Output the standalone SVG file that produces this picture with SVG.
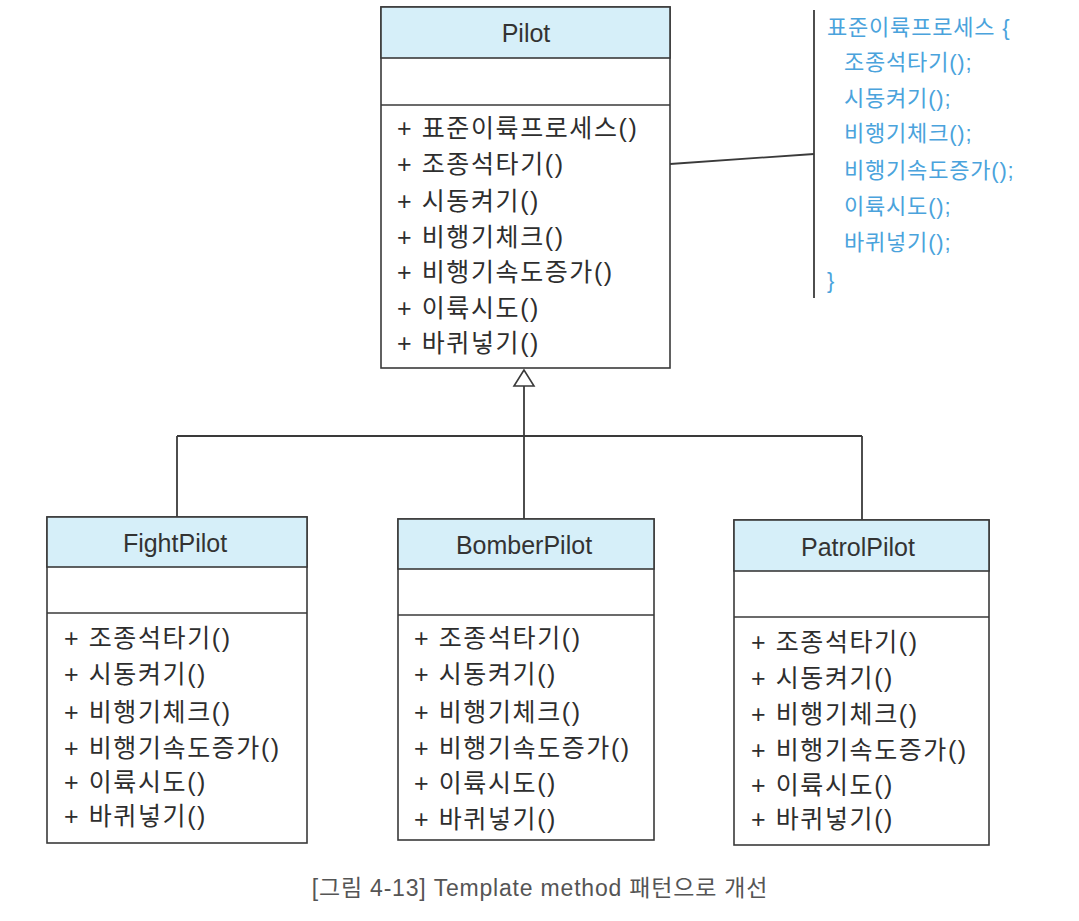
<svg xmlns="http://www.w3.org/2000/svg" width="1079" height="921" viewBox="0 0 1079 921">
<style>
.box{fill:#ffffff;stroke:#3a3a3a;stroke-width:1.6}
.hdr{fill:#d6eff9;stroke:#3a3a3a;stroke-width:1.6}
.sep{stroke:#3a3a3a;stroke-width:1.6}
.title{font-family:"Liberation Sans","Noto Sans CJK KR",sans-serif;font-size:25px;fill:#333;text-anchor:middle}
.m{font-family:"Liberation Sans","Noto Sans CJK KR",sans-serif;font-size:25px;fill:#2e2e2e;letter-spacing:1.6px}
.note{font-family:"Liberation Sans","Noto Sans CJK KR",sans-serif;font-size:22px;fill:#4aa3dc;letter-spacing:0.8px}
.cap{font-family:"Liberation Sans","Noto Sans CJK KR",sans-serif;font-size:23px;fill:#555;text-anchor:middle;letter-spacing:0.8px}
.ln{stroke:#3a3a3a;stroke-width:1.8;fill:none}
</style>
<rect width="1079" height="921" fill="#ffffff"/>

<g id="connectors">
  <line class="ln" x1="524" y1="386" x2="524" y2="519"/>
  <line class="ln" x1="177" y1="436" x2="862" y2="436"/>
  <line class="ln" x1="177" y1="436" x2="177" y2="517"/>
  <line class="ln" x1="862" y1="436" x2="862" y2="520"/>
  <polygon points="524,370 514,386 534,386" fill="#ffffff" stroke="#3a3a3a" stroke-width="1.6"/>
  <line class="ln" x1="670" y1="164" x2="814" y2="154"/>
</g>

<g id="Pilot">
  <rect class="box" x="381" y="7" width="289" height="361"/>
  <rect class="hdr" x="381" y="7" width="289" height="51"/>
  <line class="sep" x1="381" y1="105" x2="670" y2="105"/>
  <text class="title" x="526" y="42">Pilot</text>
  <text class="m" x="397" y="137">+ 표준이륙프로세스()</text>
  <text class="m" x="397" y="173">+ 조종석타기()</text>
  <text class="m" x="397" y="210">+ 시동켜기()</text>
  <text class="m" x="397" y="246">+ 비행기체크()</text>
  <text class="m" x="397" y="281">+ 비행기속도증가()</text>
  <text class="m" x="397" y="317">+ 이륙시도()</text>
  <text class="m" x="397" y="352">+ 바퀴넣기()</text>
</g>

<g id="note">
  <line class="ln" x1="814" y1="10" x2="814" y2="298"/>
  <text class="note" x="827" y="35">표준이륙프로세스 {</text>
  <text class="note" x="844" y="70">조종석타기();</text>
  <text class="note" x="844" y="106">시동켜기();</text>
  <text class="note" x="844" y="141">비행기체크();</text>
  <text class="note" x="844" y="178">비행기속도증가();</text>
  <text class="note" x="844" y="214">이륙시도();</text>
  <text class="note" x="844" y="250">바퀴넣기();</text>
  <text class="note" x="827" y="288">}</text>
</g>

<g id="FightPilot">
  <rect class="box" x="47" y="517" width="260" height="326"/>
  <rect class="hdr" x="47" y="517" width="260" height="50"/>
  <line class="sep" x1="47" y1="613" x2="307" y2="613"/>
  <text class="title" x="175" y="552">FightPilot</text>
  <text class="m" x="64" y="647">+ 조종석타기()</text>
  <text class="m" x="64" y="683">+ 시동켜기()</text>
  <text class="m" x="64" y="721">+ 비행기체크()</text>
  <text class="m" x="64" y="757">+ 비행기속도증가()</text>
  <text class="m" x="64" y="791">+ 이륙시도()</text>
  <text class="m" x="64" y="825">+ 바퀴넣기()</text>
</g>

<g id="BomberPilot">
  <rect class="box" x="398" y="519" width="256" height="321"/>
  <rect class="hdr" x="398" y="519" width="256" height="50"/>
  <line class="sep" x1="398" y1="615" x2="654" y2="615"/>
  <text class="title" x="524" y="554">BomberPilot</text>
  <text class="m" x="414" y="647">+ 조종석타기()</text>
  <text class="m" x="414" y="683">+ 시동켜기()</text>
  <text class="m" x="414" y="721">+ 비행기체크()</text>
  <text class="m" x="414" y="757">+ 비행기속도증가()</text>
  <text class="m" x="414" y="792">+ 이륙시도()</text>
  <text class="m" x="414" y="828">+ 바퀴넣기()</text>
</g>

<g id="PatrolPilot">
  <rect class="box" x="734" y="520" width="255" height="325"/>
  <rect class="hdr" x="734" y="520" width="255" height="51"/>
  <line class="sep" x1="734" y1="617" x2="989" y2="617"/>
  <text class="title" x="858" y="556">PatrolPilot</text>
  <text class="m" x="751" y="651">+ 조종석타기()</text>
  <text class="m" x="751" y="687">+ 시동켜기()</text>
  <text class="m" x="751" y="723">+ 비행기체크()</text>
  <text class="m" x="751" y="759">+ 비행기속도증가()</text>
  <text class="m" x="751" y="794">+ 이륙시도()</text>
  <text class="m" x="751" y="828">+ 바퀴넣기()</text>
</g>

<text class="cap" x="540" y="896">[그림 4-13] Template method 패턴으로 개선</text>
</svg>
